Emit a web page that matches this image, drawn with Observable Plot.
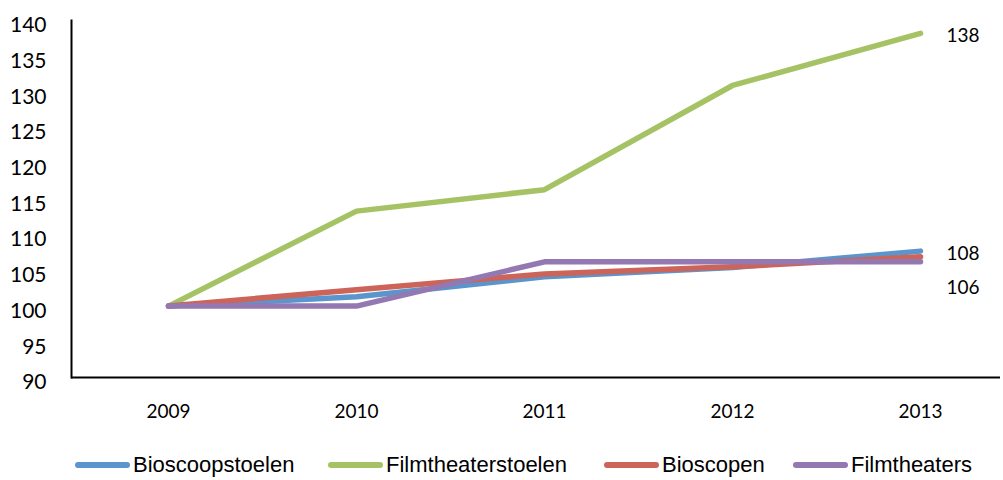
<!DOCTYPE html>
<html>
<head>
<meta charset="utf-8">
<script src="https://cdn.jsdelivr.net/npm/d3@7"></script>
<script src="https://cdn.jsdelivr.net/npm/@observablehq/plot@0.6"></script>
<style>
  body { margin: 0; background: #fff; width: 1003px; height: 480px; overflow: hidden; }
  #legend { position: relative; height: 40px; font-family: "Liberation Sans", sans-serif; font-size: 22px; color: #000; }
  .item { position: absolute; top: 12px; display: flex; align-items: center; }
  .sw { width: 55px; height: 6px; border-radius: 3px; margin-right: 3px; }
</style>
</head>
<body>
<div id="chart"></div>
<div id="legend"></div>
<script>
const years = [2009, 2010, 2011, 2012, 2013];
const seriesNames = ["Bioscoopstoelen", "Filmtheaterstoelen", "Bioscopen", "Filmtheaters"];
const bioscoopstoelen = [100, 101.3, 104.1, 105.4, 107.7];
const filmtheaterstoelen = [100, 113.3, 116.3, 130.9, 138.2];
const bioscopen = [100, 102.3, 104.5, 105.5, 106.9];
const filmtheaters = [100, 100, 106.2, 106.2, 106.2];
const colors = ["#5B95CC", "#A5C365", "#CD645A", "#9478B1"];
const yTicks = [90, 95, 100, 105, 110, 115, 120, 125, 130, 135, 140];
const endLabels = [
  {series: "Filmtheaterstoelen", value: 138.2, text: "138"},
  {series: "Bioscoopstoelen", value: 107.7, text: "108"}
];
const endLabelsLow = [{series: "Filmtheaters", value: 106.2, text: "106"}];

const allValues = [bioscoopstoelen, filmtheaterstoelen, bioscopen, filmtheaters];
const data = [];
seriesNames.forEach((s, i) => years.forEach((y, j) => data.push({series: s, year: y, value: allValues[i][j]})));

const plot = Plot.plot({
  width: 1003,
  height: 440,
  marginLeft: 71,
  marginRight: 3,
  marginTop: 20,
  marginBottom: 63,
  style: {fontFamily: "Lato, sans-serif", color: "#000", background: "#fff"},
  x: {type: "point", domain: years, range: [166, 921], padding: 0},
  y: {domain: [90, 140], range: [377, 20]},
  color: {domain: seriesNames, range: colors},
  marks: [
    Plot.axisY({ticks: yTicks, tickSize: 0, tickPadding: 25, fontSize: 21, dy: 5, label: null}),
    Plot.axisX({tickSize: 0, tickPadding: 27, fontSize: 19, label: null, tickFormat: d => String(d)}),
    Plot.line(data, {x: "year", y: "value", z: "series", stroke: "series", strokeWidth: 5.5, strokeLinecap: "round", strokeLinejoin: "round"}),
    Plot.ruleY([90], {stroke: "#000", strokeWidth: 2}),
    Plot.frame({anchor: "left", stroke: "#000", strokeWidth: 2}),
    Plot.text(endLabels, {x: () => 2013, y: "value", text: "text", dx: 26, textAnchor: "start", fontSize: 19, dy: 3}),
    Plot.text(endLabelsLow, {x: () => 2013, y: "value", text: "text", dx: 26, textAnchor: "start", fontSize: 19, dy: 26})
  ]
});
document.getElementById("chart").appendChild(plot);

const legendX = [75, 328, 604, 793];
const legend = document.getElementById("legend");
seriesNames.forEach((s, i) => {
  const it = document.createElement("div");
  it.className = "item";
  it.style.left = legendX[i] + "px";
  const sw = document.createElement("div");
  sw.className = "sw";
  sw.style.background = colors[i];
  const t = document.createElement("span");
  t.textContent = s;
  it.appendChild(sw); it.appendChild(t);
  legend.appendChild(it);
});
</script>
</body>
</html>
